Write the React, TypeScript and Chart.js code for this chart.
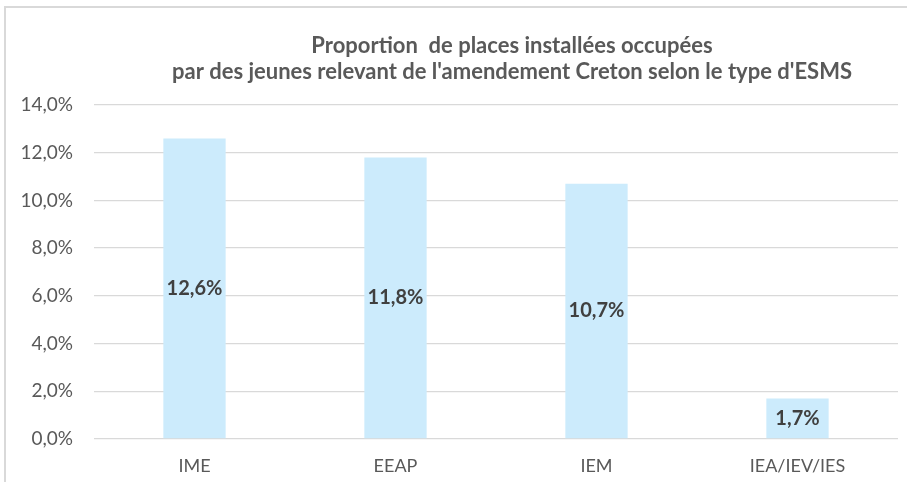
import React, { useEffect, useRef } from "react";
import { Chart, registerables } from "chart.js";

Chart.register(...registerables);

const categories = ["IME", "EEAP", "IEM", "IEA/IEV/IES"];
const values = [12.6, 11.8, 10.7, 1.7];
const yMin = 0;
const yMax = 14;
const yStep = 2;
const titleLines = [
  "Proportion  de places installées occupées",
  "par des jeunes relevant de l'amendement Creton selon le type d'ESMS",
];

const FONT = "Lato, 'Open Sans', sans-serif";
const fmt = (v: number) => v.toFixed(1).replace(".", ",") + "%";

const framePlugin = {
  id: "frame",
  beforeDraw(chart: any) {
    const ctx = chart.ctx;
    ctx.save();
    ctx.fillStyle = "#ffffff";
    ctx.fillRect(0, 0, chart.width, chart.height);
    ctx.strokeStyle = "#d9d9d9";
    ctx.lineWidth = 2;
    ctx.beginPath();
    ctx.moveTo(5, chart.height);
    ctx.lineTo(5, 7);
    ctx.lineTo(chart.width, 7);
    ctx.stroke();
    ctx.restore();
  },
};

const titlePlugin = {
  id: "customTitle",
  afterDraw(chart: any) {
    const ctx = chart.ctx;
    ctx.save();
    ctx.fillStyle = "#595959";
    ctx.font = `bold 22px ${FONT}`;
    ctx.textAlign = "center";
    ctx.textBaseline = "middle";
    const cx = 512;
    ctx.fillText(titleLines[0], cx, 46);
    ctx.fillText(titleLines[1], cx, 72);
    ctx.restore();
  },
};

const labelPlugin = {
  id: "barLabels",
  afterDatasetsDraw(chart: any) {
    const ctx = chart.ctx;
    const meta = chart.getDatasetMeta(0);
    ctx.save();
    ctx.fillStyle = "#404040";
    ctx.font = `bold 20px ${FONT}`;
    ctx.textAlign = "center";
    ctx.textBaseline = "middle";
    meta.data.forEach((bar: any, i: number) => {
      const v = chart.data.datasets[0].data[i] as number;
      ctx.fillText(fmt(v), bar.x, (bar.y + bar.base) / 2);
    });
    ctx.restore();
  },
};

export default function App() {
  const ref = useRef<HTMLCanvasElement | null>(null);
  useEffect(() => {
    if (!ref.current) return;
    const chart = new Chart(ref.current, {
      type: "bar",
      data: {
        labels: categories,
        datasets: [
          {
            data: values,
            backgroundColor: "#CCEBFC",
            barPercentage: 0.31,
            categoryPercentage: 1,
          },
        ],
      },
      options: {
        responsive: false,
        animation: false,
        devicePixelRatio: 1,
        layout: { padding: { top: 105, left: 0, right: 9, bottom: 0 } },
        plugins: {
          legend: { display: false },
          tooltip: { enabled: false },
          title: { display: false },
        },
        scales: {
          x: {
            grid: { display: false, drawTicks: false },
            border: { display: false },
            ticks: {
              color: "#595959",
              font: { family: FONT, size: 18 },
              padding: 16,
            },
            afterFit(scale: any) {
              scale.height = 43;
            },
          },
          y: {
            min: yMin,
            max: yMax,
            grid: { color: "#d9d9d9", lineWidth: 1.3, drawTicks: false },
            border: { display: false },
            ticks: {
              stepSize: yStep,
              color: "#595959",
              font: { family: FONT, size: 19 },
              padding: 21,
              callback: (v: any) => fmt(Number(v)),
            },
            afterFit(scale: any) {
              scale.width = 94;
            },
          },
        },
      },
      plugins: [framePlugin, titlePlugin, labelPlugin],
    });
    return () => chart.destroy();
  }, []);
  return (
    <div style={{ position: "absolute", left: 0, top: 0, width: 907, height: 482 }}>
      <canvas ref={ref} width={907} height={482} />
    </div>
  );
}
